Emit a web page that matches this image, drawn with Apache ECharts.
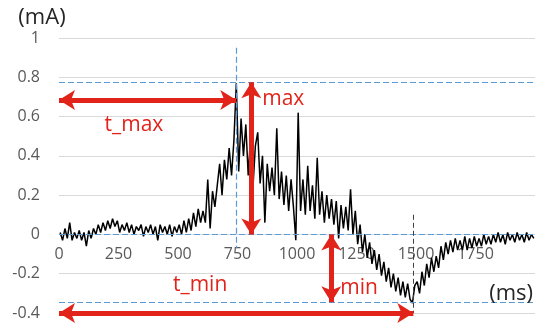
<!DOCTYPE html>
<html><head><meta charset="utf-8">
<script src="https://cdn.jsdelivr.net/npm/echarts@6/dist/echarts.min.js"></script>
<style>html,body{margin:0;padding:0;background:#fff}#c{width:535px;height:325px}</style>
</head><body><div id="c"></div><script>
// current (mA), one sample every 10 ms starting at 5 ms
const current = [
  0.01,-0.03,0.03,-0.02,0.06,-0.03,0.01,-0.02,0.02,-0.03,
  0.01,-0.06,0.02,-0.02,0.03,0.00,0.05,0.01,0.06,0.02,
  0.07,0.03,0.08,0.04,0.07,0.01,0.05,0.02,0.06,0.01,
  0.05,0.00,0.04,0.02,0.05,-0.01,0.04,0.01,0.05,0.00,
  0.04,-0.03,0.05,0.01,0.04,0.00,0.05,-0.01,0.04,0.01,
  0.05,0.00,0.07,0.01,0.08,0.02,0.11,0.04,0.13,0.06,
  0.12,0.06,0.28,0.03,0.22,0.14,0.25,0.36,0.20,0.38,
  0.28,0.44,0.30,0.48,0.77,0.32,0.59,0.40,0.56,0.30,
  0.50,0.24,0.45,0.52,0.26,0.40,0.06,0.36,0.22,0.34,
  0.20,0.54,0.18,0.32,0.15,0.30,0.12,0.28,0.14,-0.03,
  0.62,0.12,0.28,0.10,0.35,0.12,0.25,0.08,0.39,0.10,
  0.22,0.06,0.20,0.08,0.18,0.05,0.17,-0.02,0.15,0.03,
  0.14,0.02,0.23,0.00,0.12,-0.05,0.05,-0.09,0.00,-0.12,
  -0.04,-0.15,-0.08,-0.18,-0.10,-0.21,-0.14,-0.24,-0.17,-0.27,
  -0.20,-0.29,-0.22,-0.31,-0.24,-0.32,-0.25,-0.33,-0.35,-0.26,
  -0.24,-0.30,-0.19,-0.26,-0.15,-0.22,-0.12,-0.19,-0.11,-0.17,
  -0.06,-0.13,-0.04,-0.10,-0.03,-0.09,-0.02,-0.08,-0.03,-0.08,
  -0.01,-0.08,-0.02,-0.07,-0.01,-0.06,-0.02,-0.06,0.00,-0.05,
  -0.01,-0.05,0.00,-0.04,0.01,-0.04,0.00,-0.05,0.01,-0.03,
  0.00,-0.04,0.01,-0.03,0.00,-0.04,0.01,-0.03,0.00,-0.02
];
const sampleTimes = current.map((_, i) => 5 + i * 10);

const xTicks = [0, 250, 500, 750, 1000, 1250, 1500, 1750];
const yTicks = [-0.4, -0.2, 0, 0.2, 0.4, 0.6, 0.8, 1];

// annotation values
const tMax = 745, maxVal = 0.775;
const tMin = 1489, minVal = -0.345;
const maxArrowX = 808, minArrowX = 1144;
const tMaxArrowY = 0.685;

const RED = '#e2231a';
const BLUE = '#5b9bd5';

const chart = echarts.init(document.getElementById('c'), null, {renderer: 'canvas'});

const baseOption = (xOffset) => ({
  animation: false,
  grid: {left: 59, right: 0, top: 38, bottom: 12, containLabel: false, outerBoundsMode: 'none'},
  xAxis: {
    type: 'value', min: 0, max: 2000, interval: 250, position: 'bottom', offset: xOffset,
    axisLine: {show: false, onZero: false},
    axisTick: {show: false},
    splitLine: {show: false},
    axisLabel: {
      color: '#595959', fontSize: 16, fontFamily: 'Open Sans', margin: 12,
      formatter: v => xTicks.indexOf(v) >= 0 ? String(v) : ''
    }
  },
  yAxis: {
    type: 'value', min: -0.4, max: 1, interval: 0.2,
    axisLine: {show: false}, axisTick: {show: false},
    splitLine: {lineStyle: {color: '#d9d9d9', width: 1}},
    axisLabel: {
      color: '#595959', fontSize: 16, fontFamily: 'Open Sans', margin: 19,
      formatter: v => {
        const r = Math.round(v * 10) / 10;
        return yTicks.some(t => Math.abs(t - r) < 1e-9) ? String(r) : '';
      }
    }
  },
  series: [
    {
      type: 'line', name: 'guides', data: [], silent: true, z: 1,
      markLine: {
        silent: true, symbol: 'none', label: {show: false},
        lineStyle: {color: BLUE, width: 1.2, type: [6, 3]},
        data: [
          [{coord: [0, maxVal]}, {coord: [2000, maxVal]}],
          [{coord: [0, 0]}, {coord: [2000, 0]}],
          [{coord: [0, minVal]}, {coord: [2000, minVal]}],
          [{coord: [tMax, 0.95]}, {coord: [tMax, -0.07]}]
        ]
      }
    },
    {
      type: 'line', name: 'minGuide', data: [], silent: true, z: 1,
      markLine: {
        silent: true, symbol: 'none', label: {show: false},
        lineStyle: {color: '#404040', width: 1, type: [5, 3]},
        data: [
          [{coord: [tMin, 0.10]}, {coord: [tMin, -0.4]}]
        ]
      }
    },
    {
      type: 'line', name: 'current', z: 2,
      data: sampleTimes.map((t, i) => [t, current[i]]),
      showSymbol: false, symbol: 'none',
      lineStyle: {color: '#000', width: 1.5}
    },
    {
      type: 'line', name: 'arrows', data: [], silent: true, z: 3,
      markLine: {
        silent: true, symbol: ['arrow', 'arrow'], symbolSize: [15, 16],
        label: {show: false},
        lineStyle: {color: RED, width: 5, type: 'solid'},
        itemStyle: {color: RED},
        data: [
          [{coord: [0, tMaxArrowY]}, {coord: [tMax, tMaxArrowY]}],
          [{coord: [maxArrowX, maxVal]}, {coord: [maxArrowX, 0]}],
          [{coord: [minArrowX, 0]}, {coord: [minArrowX, minVal]}],
          [{coord: [0, -0.4]}, {coord: [tMin, -0.4]}]
        ]
      }
    }
  ]
});

chart.setOption(baseOption(0));
// move the x-axis labels up so they sit under the zero line
const zeroPx = chart.convertToPixel({gridIndex: 0}, [0, 0])[1];
const bottomPx = chart.convertToPixel({gridIndex: 0}, [0, -0.4])[1];
chart.setOption({xAxis: {offset: zeroPx - bottomPx}});

function px(x, y) { return chart.convertToPixel({gridIndex: 0}, [x, y]); }
const labels = [
  {text: 't_max', at: [315, 0.557], align: 'center'},
  {text: 'max', at: [854, 0.69], align: 'left'},
  {text: 'min', at: [1182, -0.272], align: 'left'},
  {text: 't_min', at: [593, -0.257], align: 'center'}
];
const g = labels.map(l => {
  const p = px(l.at[0], l.at[1]);
  return {type: 'text', x: p[0], y: p[1], z: 10,
    style: {text: l.text, fill: RED, fontSize: 21, fontFamily: 'Open Sans', align: l.align, verticalAlign: 'middle'}};
});
g.push({type: 'text', x: 42, y: 18, z: 10,
  style: {text: '(mA)', fill: '#262626', fontSize: 22, fontFamily: 'Open Sans', align: 'center', verticalAlign: 'middle'}});
g.push({type: 'text', x: 533, y: 294, z: 10,
  style: {text: '(ms)', fill: '#262626', fontSize: 22, fontFamily: 'Open Sans', align: 'right', verticalAlign: 'middle'}});
chart.setOption({graphic: g});
</script></body></html>
